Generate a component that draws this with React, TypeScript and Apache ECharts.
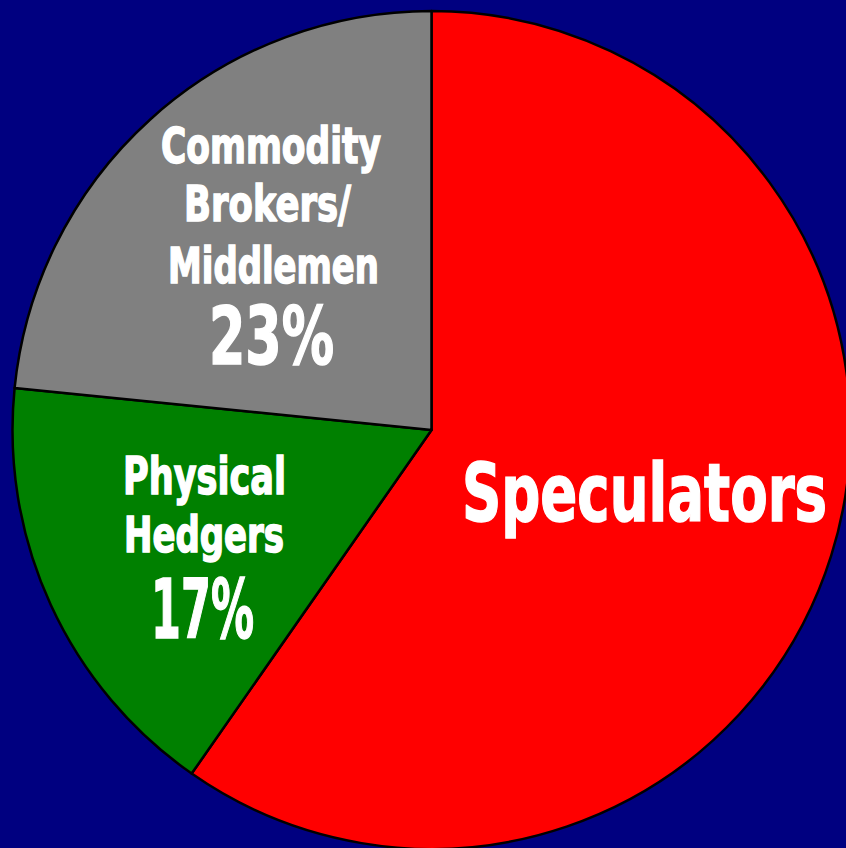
import React, { useEffect, useRef } from "react";
import * as echarts from "echarts";

const categories = ["Speculators", "Physical Hedgers", "Commodity Brokers/Middlemen"];
const labelLines = [["Speculators"], ["Physical", "Hedgers"], ["Commodity", "Brokers/", "Middlemen"]];
const values = [59.7, 16.9, 23.4];
const showPercent = [false, true, true];
const colors = ["#FF0000", "#008000", "#808080"];

const FONT = '"DejaVu Sans Condensed", "DejaVu Sans", sans-serif';

// layout of each label line: center x, center y (of capitals), target width, font size
const lineLayout: number[][][] = [
  [[644.5, 493, 365, 81]],
  [
    [204.5, 476, 163, 52],
    [204, 534.5, 160, 49],
    [202.5, 610, 103, 82],
  ],
  [
    [271, 146.5, 220, 50],
    [267.5, 203.5, 167, 50],
    [273.5, 265.5, 211, 49],
    [271.5, 336, 125, 80],
  ],
];

export default function App() {
  const ref = useRef<HTMLDivElement>(null);
  useEffect(() => {
    if (!ref.current) return;
    const canvas = document.createElement("canvas");
    const ctx = canvas.getContext("2d")!;
    const measure = (text: string, size: number) => {
      ctx.font = `bold ${size}px ${FONT}`;
      return ctx.measureText(text).width;
    };

    const graphics: any[] = [];
    categories.forEach((_, i) => {
      const lines = [...labelLines[i]];
      if (showPercent[i]) lines.push(`${Math.round(values[i])}%`);
      lines.forEach((t, j) => {
        const [cx, cy, w, size] = lineLayout[i][j];
        const sx = w / measure(t, size);
        graphics.push({
          type: "text",
          x: cx,
          y: cy,
          scaleX: sx,
          z: 100,
          silent: true,
          style: {
            text: t,
            fill: "#FFFFFF",
            stroke: "#FFFFFF",
            lineWidth: 1.5,
            fontFamily: FONT,
            fontWeight: "bold",
            fontSize: size,
            textAlign: "center",
            textVerticalAlign: "middle",
          },
        });
      });
    });

    const chart = echarts.init(ref.current, null, { renderer: "svg" });
    chart.setOption({
      animation: false,
      backgroundColor: "#000080",
      graphic: graphics,
      series: [
        {
          type: "pie",
          center: [431.5, 430],
          radius: [0, 419],
          startAngle: 90,
          clockwise: true,
          avoidLabelOverlap: false,
          silent: true,
          itemStyle: { borderColor: "#000000", borderWidth: 2.5 },
          data: categories.map((c, i) => ({
            name: c,
            value: values[i],
            itemStyle: { color: colors[i] },
          })),
          label: { show: false },
          labelLine: { show: false },
        },
      ],
    });
    return () => chart.dispose();
  }, []);
  return (
    <div
      ref={ref}
      style={{ position: "fixed", left: 0, top: 0, width: 846, height: 848 }}
    />
  );
}
